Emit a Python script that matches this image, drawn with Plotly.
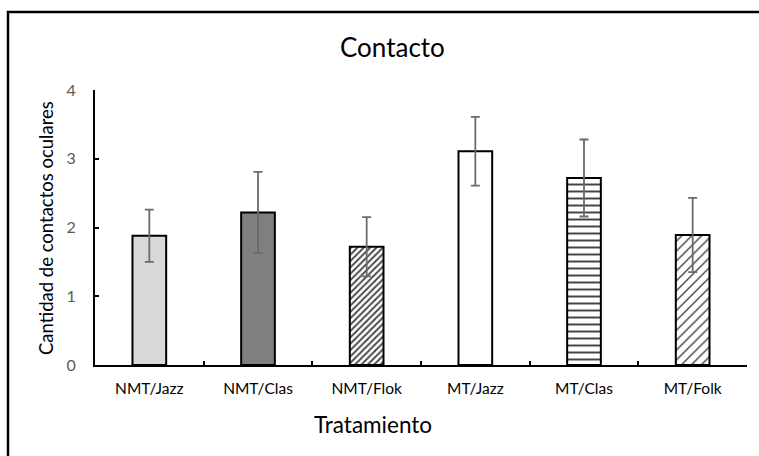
import plotly.graph_objects as go

categories = ["NMT/Jazz", "NMT/Clas", "NMT/Flok", "MT/Jazz", "MT/Clas", "MT/Folk"]
means = [1.88, 2.22, 1.72, 3.11, 2.72, 1.89]
errors = [0.38, 0.59, 0.43, 0.50, 0.56, 0.54]
y_ticks = [0, 1, 2, 3, 4]

W, H = 759, 456
L, R, T, B = 95, 12, 90, 91
pw = W - L - R
ph = H - T - B

fills = ["#d9d9d9", "#7f7f7f", "#ffffff", "#ffffff", "#ffffff", "#ffffff"]
shapes_pat = ["", "", "/", "", "-", "/"]
sizes = [6, 6, 4.5, 6, 7, 7]
solid = [0.3, 0.3, 0.4, 0.3, 0.28, 0.2]

FONT = "Lato"

fig = go.Figure()
fig.add_trace(go.Bar(
    x=categories, y=means,
    width=0.31,
    marker=dict(
        color=fills,
        line=dict(color="black", width=2),
        pattern=dict(shape=shapes_pat, fgcolor="black", bgcolor="white",
                     size=sizes, solidity=solid, fgopacity=1),
    ),
    error_y=dict(type="data", array=errors, visible=True,
                 color="#6b6b6b", thickness=1.8, width=4.5),
    showlegend=False,
))

def px_x(px):
    return (px - L) / pw

def px_y(py):
    return (H - B - py) / ph

fig.update_layout(
    width=W, height=H,
    margin=dict(l=L, r=R, t=T, b=B, pad=0),
    paper_bgcolor="white", plot_bgcolor="white",
    font=dict(family=FONT, color="#000000"),
    xaxis=dict(
        showline=True, linecolor="black", linewidth=1.8,
        ticks="inside", tickson="boundaries", ticklen=4, tickwidth=1.5, tickcolor="black",
        tickfont=dict(size=15.5, color="#000000", family=FONT),
        ticklabelstandoff=8,
        showgrid=False, zeroline=False,
    ),
    yaxis=dict(
        range=[0, 4], tickvals=y_ticks,
        showline=True, linecolor="black", linewidth=1.8,
        ticks="inside", ticklen=4, tickwidth=1.5, tickcolor="black",
        tickfont=dict(size=16, color="#595959", family=FONT),
        ticklabelstandoff=14,
        showgrid=False, zeroline=False,
    ),
    shapes=[dict(type="rect", xref="paper", yref="paper",
                 x0=px_x(8), x1=px_x(900), y0=px_y(12), y1=px_y(700),
                 line=dict(color="black", width=2.5), fillcolor="rgba(0,0,0,0)")],
    annotations=[
        dict(text="Contacto", xref="paper", yref="paper", x=px_x(392), y=px_y(47),
             showarrow=False, xanchor="center", yanchor="middle",
             font=dict(size=26, color="#000000", family=FONT)),
        dict(text="Tratamiento", xref="paper", yref="paper", x=px_x(373), y=px_y(424),
             showarrow=False, xanchor="center", yanchor="middle",
             font=dict(size=22.5, color="#000000", family=FONT)),
        dict(text="Cantidad de contactos oculares", xref="paper", yref="paper",
             x=px_x(46), y=px_y(228), textangle=-90,
             showarrow=False, xanchor="center", yanchor="middle",
             font=dict(size=18.5, color="#000000", family=FONT)),
    ],
)

fig.write_html("out.html", config={"displayModeBar": False},
               post_script="document.body.style.margin='0';document.body.style.overflow='hidden';")
